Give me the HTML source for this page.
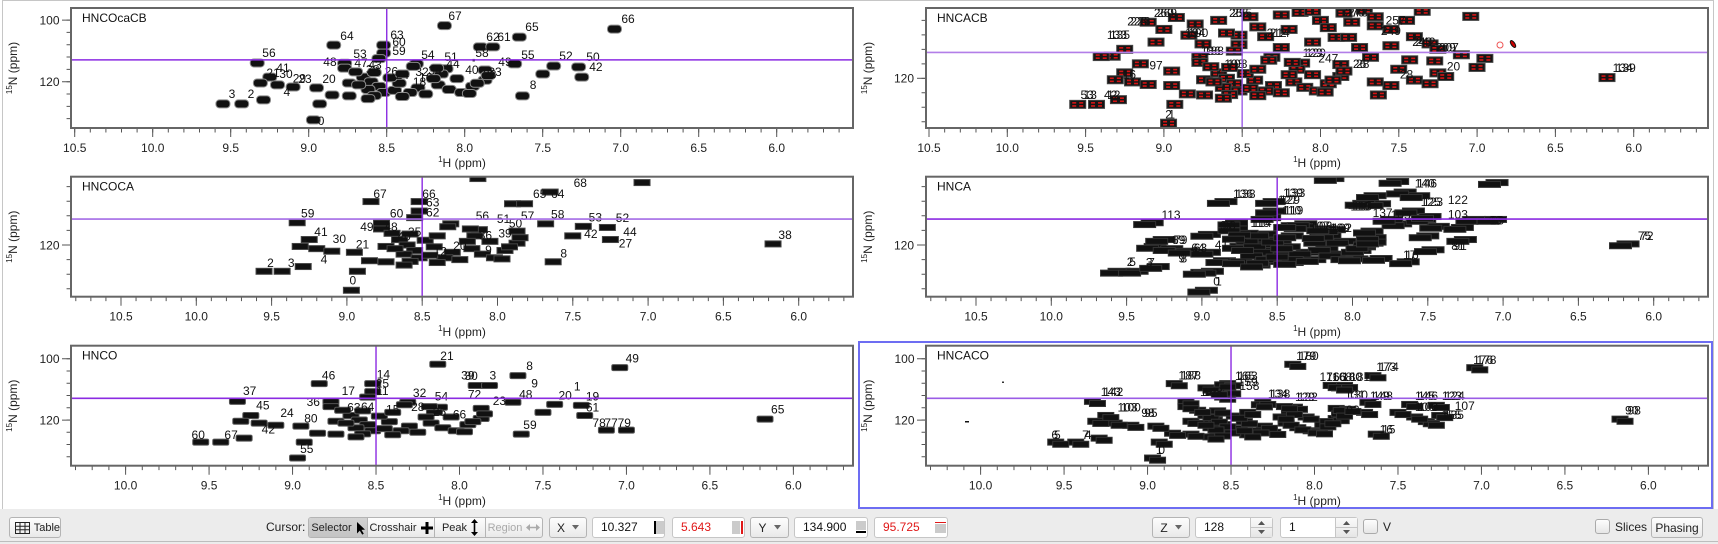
<!DOCTYPE html>
<html><head><meta charset="utf-8">
<style>
body{margin:0;width:1718px;height:544px;overflow:hidden;background:#fff;position:relative;font-family:"Liberation Sans",sans-serif}
svg text{font-family:"Liberation Sans",sans-serif}
.L text{font-size:12px;fill:#111;text-anchor:middle}
.tk{stroke:#555;fill:none}
.xl{font-size:12px;fill:#222;text-anchor:middle}
.yl{font-size:12px;fill:#222;text-anchor:end}
.ti{font-size:12px;fill:#111}
.b{position:absolute;top:517px;height:21px;box-sizing:border-box;border:1px solid #b4b4b4;border-radius:3px;background:linear-gradient(#fdfdfd,#e9e9e9);font:11px "Liberation Sans Narrow","Liberation Sans",sans-serif;color:#222;display:flex;align-items:center;justify-content:center;gap:4px}
.i{position:absolute;top:517px;height:21px;box-sizing:border-box;border:1px solid #c6c6c6;border-radius:3px;background:#fff;font:12px "Liberation Sans",sans-serif;color:#111;line-height:19px;padding-left:8px}
.g{position:absolute;background:#cbcbcb}
.t{position:absolute;font:12px "Liberation Sans Narrow","Liberation Sans",sans-serif;color:#222}
.seg{position:absolute;top:517px;height:21px;left:308px;width:235px;box-sizing:border-box;border:1px solid #b4b4b4;border-radius:3px;background:linear-gradient(#fdfdfd,#e9e9e9);display:flex;font:11px "Liberation Sans Narrow","Liberation Sans",sans-serif;color:#222;overflow:hidden}
.seg div{display:flex;align-items:center;justify-content:center;gap:4px;box-sizing:border-box;border-left:1px solid #b4b4b4}
.cb{position:absolute;top:519px;width:15px;height:15px;box-sizing:border-box;border:1px solid #aaa;border-radius:3px;background:linear-gradient(#fdfdfd,#e6e6e6)}
</style></head><body>
<svg width="1718" height="544" style="position:absolute;left:0;top:0">
<rect x="2.5" y="0.5" width="1711" height="509" fill="#fff" stroke="#c6c6c6"/>

<!-- ================= TL HNCOcaCB ================= -->
<g class="tk">
<line x1="74.2" y1="130.2" x2="840" y2="130.2" stroke-width="4.5" stroke-dasharray="1 14.6"/>
<line x1="74.2" y1="132.5" x2="778" y2="132.5" stroke-width="9" stroke-dasharray="1 77"/>
<line x1="68.8" y1="19.6" x2="68.8" y2="120" stroke-width="4.5" stroke-dasharray="1 11.32"/>
<line x1="66.5" y1="19.6" x2="66.5" y2="83" stroke-width="9" stroke-dasharray="1 60.6"/>
</g>
<g class="xl"><text x="74.7" y="152">10.5</text><text x="152.7" y="152">10.0</text><text x="230.7" y="152">9.5</text><text x="308.7" y="152">9.0</text><text x="386.7" y="152">8.5</text><text x="464.7" y="152">8.0</text><text x="542.7" y="152">7.5</text><text x="620.7" y="152">7.0</text><text x="698.7" y="152">6.5</text><text x="776.7" y="152">6.0</text>
<text x="462" y="167"><tspan font-size="8" dy="-5">1</tspan><tspan dy="5">H (ppm)</tspan></text></g>
<g class="yl"><text x="59.5" y="24.3">100</text><text x="59.5" y="85.9">120</text></g>
<text class="xl" transform="translate(17 68) rotate(-90)"><tspan font-size="8" dy="-5">15</tspan><tspan dy="5">N (ppm)</tspan></text>
<svg x="71" y="8" width="782" height="120" viewBox="-10.524 96.06 5.013 38.96" preserveAspectRatio="none">
<defs><g id="tp" transform="scale(.00641 .3247)"><rect x="-7" y="-4" width="14" height="8" rx="3.5" fill="#111" stroke="#8a8a8a"/></g></defs>
<use href="#tp" x="-8.13" y="101.8"/><use href="#tp" x="-7.04" y="102.9"/><use href="#tp" x="-7.65" y="105.5"/><use href="#tp" x="-7.90" y="108.7"/><use href="#tp" x="-7.82" y="108.7"/><use href="#tp" x="-8.84" y="108.1"/><use href="#tp" x="-8.52" y="108.1"/><use href="#tp" x="-8.52" y="110.7"/><use href="#tp" x="-9.33" y="113.9"/><use href="#tp" x="-8.31" y="114.2"/>
<use href="#tp" x="-7.68" y="114.2"/><use href="#tp" x="-7.43" y="114.9"/><use href="#tp" x="-7.27" y="115.2"/><use href="#tp" x="-7.25" y="118.5"/><use href="#tp" x="-8.77" y="114.0"/><use href="#tp" x="-8.77" y="115.6"/><use href="#tp" x="-9.25" y="118.5"/><use href="#tp" x="-9.55" y="127.2"/><use href="#tp" x="-9.43" y="127.2"/><use href="#tp" x="-8.97" y="132.4"/>
<use href="#tp" x="-7.63" y="124.6"/><use href="#tp" x="-9.31" y="120.4"/><use href="#tp" x="-9.20" y="121.0"/><use href="#tp" x="-9.10" y="121.7"/><use href="#tp" x="-9.29" y="125.9"/><use href="#tp" x="-8.95" y="122.0"/><use href="#tp" x="-8.85" y="124.3"/><use href="#tp" x="-8.74" y="120.4"/><use href="#tp" x="-8.74" y="124.6"/><use href="#tp" x="-8.93" y="127.2"/>
<use href="#tp" x="-7.50" y="117.5"/><use href="#tp" x="-7.87" y="119.5"/><use href="#tp" x="-7.87" y="116.2"/><use href="#tp" x="-8.55" y="112.5"/><use href="#tp" x="-8.12" y="115.8"/><use href="#tp" x="-8.15" y="117.5"/><use href="#tp" x="-8.05" y="119.0"/><use href="#tp" x="-8.17" y="121.0"/><use href="#tp" x="-8.10" y="122.5"/><use href="#tp" x="-8.02" y="123.5"/>
<use href="#tp" x="-7.95" y="121.5"/><use href="#tp" x="-8.30" y="122.0"/><use href="#tp" x="-8.35" y="123.5"/><use href="#tp" x="-8.25" y="124.0"/><use href="#tp" x="-8.65" y="118.5"/><use href="#tp" x="-8.60" y="120.0"/><use href="#tp" x="-8.55" y="121.5"/><use href="#tp" x="-8.62" y="122.5"/><use href="#tp" x="-8.52" y="123.5"/><use href="#tp" x="-8.68" y="121.0"/>
<use href="#tp" x="-8.58" y="124.5"/><use href="#tp" x="-8.45" y="122.8"/><use href="#tp" x="-8.42" y="120.5"/><use href="#tp" x="-8.48" y="118.7"/><use href="#tp" x="-8.40" y="124.8"/><use href="#tp" x="-7.92" y="120.5"/><use href="#tp" x="-7.85" y="118.0"/><use href="#tp" x="-8.20" y="119.0"/><use href="#tp" x="-7.97" y="123.8"/><use href="#tp" x="-8.58" y="117.0"/>
<use href="#tp" x="-8.70" y="116.8"/><use href="#tp" x="-8.62" y="125.5"/><use href="#tp" x="-8.40" y="117.5"/><use href="#tp" x="-8.18" y="115.6"/><use href="#tp" x="-8.33" y="115.0"/>
<rect x="-7.95" y="112.6" width=".015" height=".8" fill="#111"/>
<g class="L">
<text transform="translate(-8.062 98.66) scale(.00641 .3247)" y="4">67</text>
<text transform="translate(-6.953 99.63) scale(.00641 .3247)" y="4">66</text>
<text transform="translate(-7.569 102.23) scale(.00641 .3247)" y="4">65</text>
<text transform="translate(-7.819 105.48) scale(.00641 .3247)" y="4">62</text>
<text transform="translate(-7.748 105.48) scale(.00641 .3247)" y="4">61</text>
<text transform="translate(-8.755 105.15) scale(.00641 .3247)" y="4">64</text>
<text transform="translate(-8.434 104.83) scale(.00641 .3247)" y="4">63</text>
<text transform="translate(-8.421 107.1) scale(.00641 .3247)" y="4">60</text>
<text transform="translate(-8.421 110.02) scale(.00641 .3247)" y="4">59</text>
<text transform="translate(-9.255 110.67) scale(.00641 .3247)" y="4">56</text>
<text transform="translate(-8.671 111.0) scale(.00641 .3247)" y="4">53</text>
<text transform="translate(-8.236 111.32) scale(.00641 .3247)" y="4">54</text>
<text transform="translate(-8.088 111.97) scale(.00641 .3247)" y="4">51</text>
<text transform="translate(-7.889 110.67) scale(.00641 .3247)" y="4">58</text>
<text transform="translate(-7.742 113.59) scale(.00641 .3247)" y="4">49</text>
<text transform="translate(-7.595 111.32) scale(.00641 .3247)" y="4">55</text>
<text transform="translate(-7.351 111.64) scale(.00641 .3247)" y="4">52</text>
<text transform="translate(-7.178 111.97) scale(.00641 .3247)" y="4">50</text>
<text transform="translate(-7.159 115.22) scale(.00641 .3247)" y="4">42</text>
<text transform="translate(-8.864 113.59) scale(.00641 .3247)" y="4">48</text>
<text transform="translate(-8.665 113.92) scale(.00641 .3247)" y="4">47</text>
<text transform="translate(-9.165 115.54) scale(.00641 .3247)" y="4">41</text>
<text transform="translate(-9.229 117.16) scale(.00641 .3247)" y="4">21</text>
<text transform="translate(-9.146 117.49) scale(.00641 .3247)" y="4">30</text>
<text transform="translate(-9.024 119.11) scale(.00641 .3247)" y="4">23</text>
<text transform="translate(-9.06 119.0) scale(.00641 .3247)" y="4">29</text>
<text transform="translate(-8.87 119.11) scale(.00641 .3247)" y="4">20</text>
<text transform="translate(-9.14 123.33) scale(.00641 .3247)" y="4">4</text>
<text transform="translate(-9.492 123.98) scale(.00641 .3247)" y="4">3</text>
<text transform="translate(-9.37 123.98) scale(.00641 .3247)" y="4">2</text>
<text transform="translate(-8.921 132.75) scale(.00641 .3247)" y="4">0</text>
<text transform="translate(-7.562 121.06) scale(.00641 .3247)" y="4">8</text>
<text transform="translate(-7.954 116.19) scale(.00641 .3247)" y="4">40</text>
<text transform="translate(-8.075 114.24) scale(.00641 .3247)" y="4">44</text>
<text transform="translate(-8.575 114.57) scale(.00641 .3247)" y="4">43</text>
<text transform="translate(-8.40 117.8) scale(.00641 .3247)" y="4">24</text>
<text transform="translate(-8.274 116.8) scale(.00641 .3247)" y="4">32</text>
<text transform="translate(-7.806 116.8) scale(.00641 .3247)" y="4">33</text>
<text transform="translate(-8.25 118.6) scale(.00641 .3247)" y="4">16</text>
<text transform="translate(-8.29 120.0) scale(.00641 .3247)" y="4">18</text>
<text transform="translate(-8.19 116.4) scale(.00641 .3247)" y="4">34</text>
<text transform="translate(-7.84 117.6) scale(.00641 .3247)" y="4">28</text>
<text transform="translate(-8.59 116.0) scale(.00641 .3247)" y="4">38</text>
<text transform="translate(-8.47 116.7) scale(.00641 .3247)" y="4">26</text>
</g>
<line x1="-11" x2="-5" y1="112.9" y2="112.9" stroke="#8b2be2" stroke-width="1.6" vector-effect="non-scaling-stroke"/>
<line x1="-8.5" x2="-8.5" y1="90" y2="140" stroke="#8b2be2" stroke-width="1.4" vector-effect="non-scaling-stroke"/>
</svg>
<rect x="71" y="8" width="782" height="120" fill="none" stroke="#666" stroke-width="2"/>
<text class="ti" x="82" y="22">HNCOcaCB</text>

<!-- ================= ML HNCOCA ================= -->
<g class="tk">
<line x1="75.3" y1="298.9" x2="845" y2="298.9" stroke-width="4.5" stroke-dasharray="1 14.06"/>
<line x1="120.5" y1="301.2" x2="800" y2="301.2" stroke-width="9" stroke-dasharray="1 74.3"/>
<line x1="68.8" y1="186.1" x2="68.8" y2="290" stroke-width="4.5" stroke-dasharray="1 13.6"/>
<line x1="62" y1="245" x2="71" y2="245" stroke-width="1"/>
</g>
<g class="xl"><text x="121" y="320.5">10.5</text><text x="196.3" y="320.5">10.0</text><text x="271.6" y="320.5">9.5</text><text x="346.9" y="320.5">9.0</text><text x="422.2" y="320.5">8.5</text><text x="497.5" y="320.5">8.0</text><text x="572.8" y="320.5">7.5</text><text x="648.1" y="320.5">7.0</text><text x="723.4" y="320.5">6.5</text><text x="798.7" y="320.5">6.0</text>
<text x="462" y="336"><tspan font-size="8" dy="-5">1</tspan><tspan dy="5">H (ppm)</tspan></text></g>
<g class="yl"><text x="59.5" y="249.3">120</text></g>
<text class="xl" transform="translate(17 236.7) rotate(-90)"><tspan font-size="8" dy="-5">15</tspan><tspan dy="5">N (ppm)</tspan></text>
<svg x="71" y="176.7" width="782" height="120" viewBox="-10.832 101.29 5.193 32.87" preserveAspectRatio="none">
<defs><g id="mp" transform="scale(.006641 .27392)"><rect x="-8" y="-3" width="16" height="6" fill="#111" stroke="#444"/></g></defs>
<use href="#mp" x="-8.13" y="101.8"/><use href="#mp" x="-7.04" y="102.9"/><use href="#mp" x="-7.65" y="105.5"/><use href="#mp" x="-7.90" y="108.7"/><use href="#mp" x="-7.82" y="108.7"/><use href="#mp" x="-8.84" y="108.1"/><use href="#mp" x="-8.52" y="108.1"/><use href="#mp" x="-8.52" y="110.7"/><use href="#mp" x="-9.33" y="113.9"/><use href="#mp" x="-8.31" y="114.2"/>
<use href="#mp" x="-7.68" y="114.2"/><use href="#mp" x="-7.43" y="114.9"/><use href="#mp" x="-7.27" y="115.2"/><use href="#mp" x="-7.25" y="118.5"/><use href="#mp" x="-8.77" y="114.0"/><use href="#mp" x="-8.77" y="115.6"/><use href="#mp" x="-9.25" y="118.5"/><use href="#mp" x="-9.55" y="127.2"/><use href="#mp" x="-9.43" y="127.2"/><use href="#mp" x="-8.97" y="132.4"/>
<use href="#mp" x="-7.63" y="124.6"/><use href="#mp" x="-9.31" y="120.4"/><use href="#mp" x="-9.20" y="121.0"/><use href="#mp" x="-9.10" y="121.7"/><use href="#mp" x="-9.29" y="125.9"/><use href="#mp" x="-8.95" y="122.0"/><use href="#mp" x="-8.85" y="124.3"/><use href="#mp" x="-8.74" y="120.4"/><use href="#mp" x="-8.74" y="124.6"/><use href="#mp" x="-8.93" y="127.2"/>
<use href="#mp" x="-7.50" y="117.5"/><use href="#mp" x="-7.87" y="119.5"/><use href="#mp" x="-7.87" y="116.2"/><use href="#mp" x="-8.55" y="112.5"/><use href="#mp" x="-8.12" y="115.8"/><use href="#mp" x="-8.15" y="117.5"/><use href="#mp" x="-8.05" y="119.0"/><use href="#mp" x="-8.17" y="121.0"/><use href="#mp" x="-8.10" y="122.5"/><use href="#mp" x="-8.02" y="123.5"/>
<use href="#mp" x="-7.95" y="121.5"/><use href="#mp" x="-8.30" y="122.0"/><use href="#mp" x="-8.35" y="123.5"/><use href="#mp" x="-8.25" y="124.0"/><use href="#mp" x="-8.65" y="118.5"/><use href="#mp" x="-8.60" y="120.0"/><use href="#mp" x="-8.55" y="121.5"/><use href="#mp" x="-8.62" y="122.5"/><use href="#mp" x="-8.52" y="123.5"/><use href="#mp" x="-8.68" y="121.0"/>
<use href="#mp" x="-8.58" y="124.5"/><use href="#mp" x="-8.45" y="122.8"/><use href="#mp" x="-8.42" y="120.5"/><use href="#mp" x="-8.48" y="118.7"/><use href="#mp" x="-8.40" y="124.8"/><use href="#mp" x="-7.92" y="120.5"/><use href="#mp" x="-7.85" y="118.0"/><use href="#mp" x="-8.20" y="119.0"/><use href="#mp" x="-7.97" y="123.8"/><use href="#mp" x="-8.58" y="117.0"/>
<use href="#mp" x="-8.70" y="116.8"/><use href="#mp" x="-8.62" y="125.5"/><use href="#mp" x="-8.40" y="117.5"/><use href="#mp" x="-8.18" y="115.6"/><use href="#mp" x="-8.33" y="115.0"/><use href="#mp" x="-6.17" y="119.7"/>
<g class="L">
<text transform="translate(-8.78 106.0) scale(.006641 .27392)" y="4">67</text>
<text transform="translate(-8.455 106.0) scale(.006641 .27392)" y="4">66</text>
<text transform="translate(-8.43 108.4) scale(.006641 .27392)" y="4">63</text>
<text transform="translate(-8.43 111.1) scale(.006641 .27392)" y="4">62</text>
<text transform="translate(-7.72 106.0) scale(.006641 .27392)" y="4">65</text>
<text transform="translate(-7.60 106.0) scale(.006641 .27392)" y="4">64</text>
<text transform="translate(-7.45 103.0) scale(.006641 .27392)" y="4">68</text>
<text transform="translate(-9.26 111.4) scale(.006641 .27392)" y="4">59</text>
<text transform="translate(-8.67 111.4) scale(.006641 .27392)" y="4">60</text>
<text transform="translate(-8.10 112.0) scale(.006641 .27392)" y="4">56</text>
<text transform="translate(-7.96 112.9) scale(.006641 .27392)" y="4">51</text>
<text transform="translate(-7.80 112.0) scale(.006641 .27392)" y="4">57</text>
<text transform="translate(-7.60 111.7) scale(.006641 .27392)" y="4">58</text>
<text transform="translate(-7.35 112.4) scale(.006641 .27392)" y="4">53</text>
<text transform="translate(-7.17 112.6) scale(.006641 .27392)" y="4">52</text>
<text transform="translate(-8.867 115.0) scale(.006641 .27392)" y="4">49</text>
<text transform="translate(-8.707 115.0) scale(.006641 .27392)" y="4">48</text>
<text transform="translate(-7.88 114.1) scale(.006641 .27392)" y="4">50</text>
<text transform="translate(-9.172 116.5) scale(.006641 .27392)" y="4">41</text>
<text transform="translate(-7.38 117.0) scale(.006641 .27392)" y="4">42</text>
<text transform="translate(-7.12 116.4) scale(.006641 .27392)" y="4">44</text>
<text transform="translate(-7.95 116.8) scale(.006641 .27392)" y="4">39</text>
<text transform="translate(-8.08 117.4) scale(.006641 .27392)" y="4">36</text>
<text transform="translate(-9.05 118.3) scale(.006641 .27392)" y="4">30</text>
<text transform="translate(-8.896 119.8) scale(.006641 .27392)" y="4">21</text>
<text transform="translate(-7.15 119.6) scale(.006641 .27392)" y="4">27</text>
<text transform="translate(-6.09 117.3) scale(.006641 .27392)" y="4">38</text>
<text transform="translate(-9.152 124.0) scale(.006641 .27392)" y="4">4</text>
<text transform="translate(-9.507 124.9) scale(.006641 .27392)" y="4">2</text>
<text transform="translate(-9.37 124.9) scale(.006641 .27392)" y="4">3</text>
<text transform="translate(-7.56 122.3) scale(.006641 .27392)" y="4">8</text>
<text transform="translate(-8.96 129.7) scale(.006641 .27392)" y="4">0</text>
<text transform="translate(-8.06 121.3) scale(.006641 .27392)" y="4">9</text>
<text transform="translate(-8.55 116.5) scale(.006641 .27392)" y="4">35</text>
<text transform="translate(-8.62 117.6) scale(.006641 .27392)" y="4">40</text>
<text transform="translate(-8.25 120.2) scale(.006641 .27392)" y="4">20</text>
<text transform="translate(-8.38 121.8) scale(.006641 .27392)" y="4">12</text>
</g>
<line x1="-11" x2="-5" y1="112.9" y2="112.9" stroke="#a46be6" stroke-width="1.6" vector-effect="non-scaling-stroke"/>
<line x1="-8.5" x2="-8.5" y1="95" y2="140" stroke="#8b2be2" stroke-width="1.4" vector-effect="non-scaling-stroke"/>
</svg>
<rect x="71" y="176.7" width="782" height="120" fill="none" stroke="#666" stroke-width="2"/>
<text class="ti" x="82" y="190.7">HNCOCA</text>

<!-- ================= BL HNCO ================= -->
<g class="tk">
<line x1="75" y1="467.9" x2="845" y2="467.9" stroke-width="4.5" stroke-dasharray="1 15.695"/>
<line x1="125.1" y1="470.2" x2="795" y2="470.2" stroke-width="9" stroke-dasharray="1 82.475"/>
<line x1="68.8" y1="358.3" x2="68.8" y2="458" stroke-width="4.5" stroke-dasharray="1 11.25"/>
<line x1="66.5" y1="358.3" x2="66.5" y2="421" stroke-width="9" stroke-dasharray="1 60.3"/>
</g>
<g class="xl"><text x="125.6" y="489.5">10.0</text><text x="209.1" y="489.5">9.5</text><text x="292.6" y="489.5">9.0</text><text x="376" y="489.5">8.5</text><text x="459.5" y="489.5">8.0</text><text x="543" y="489.5">7.5</text><text x="626.5" y="489.5">7.0</text><text x="709.9" y="489.5">6.5</text><text x="793.4" y="489.5">6.0</text>
<text x="462" y="505"><tspan font-size="8" dy="-5">1</tspan><tspan dy="5">H (ppm)</tspan></text></g>
<g class="yl"><text x="59.5" y="363">100</text><text x="59.5" y="424.3">120</text></g>
<text class="xl" transform="translate(17 405.7) rotate(-90)"><tspan font-size="8" dy="-5">15</tspan><tspan dy="5">N (ppm)</tspan></text>
<svg x="71" y="345.7" width="782" height="120" viewBox="-10.327 95.725 4.684 39.175" preserveAspectRatio="none">
<defs><g id="bp" transform="scale(.00599 .32646)"><rect x="-8" y="-3" width="16" height="6" rx="1.5" fill="#111" stroke="#555"/></g></defs>
<use href="#bp" x="-8.13" y="101.8"/><use href="#bp" x="-7.04" y="102.9"/><use href="#bp" x="-7.65" y="105.5"/><use href="#bp" x="-7.90" y="108.7"/><use href="#bp" x="-7.82" y="108.7"/><use href="#bp" x="-8.84" y="108.1"/><use href="#bp" x="-8.52" y="108.1"/><use href="#bp" x="-8.52" y="110.7"/><use href="#bp" x="-9.33" y="113.9"/><use href="#bp" x="-8.31" y="114.2"/>
<use href="#bp" x="-7.68" y="114.2"/><use href="#bp" x="-7.43" y="114.9"/><use href="#bp" x="-7.27" y="115.2"/><use href="#bp" x="-7.25" y="118.5"/><use href="#bp" x="-8.77" y="114.0"/><use href="#bp" x="-8.77" y="115.6"/><use href="#bp" x="-9.25" y="118.5"/><use href="#bp" x="-9.55" y="127.2"/><use href="#bp" x="-9.43" y="127.2"/><use href="#bp" x="-8.97" y="132.4"/>
<use href="#bp" x="-7.63" y="124.6"/><use href="#bp" x="-9.31" y="120.4"/><use href="#bp" x="-9.20" y="121.0"/><use href="#bp" x="-9.10" y="121.7"/><use href="#bp" x="-9.29" y="125.9"/><use href="#bp" x="-8.95" y="122.0"/><use href="#bp" x="-8.85" y="124.3"/><use href="#bp" x="-8.74" y="120.4"/><use href="#bp" x="-8.74" y="124.6"/><use href="#bp" x="-8.93" y="127.2"/>
<use href="#bp" x="-7.50" y="117.5"/><use href="#bp" x="-7.87" y="119.5"/><use href="#bp" x="-7.87" y="116.2"/><use href="#bp" x="-8.55" y="112.5"/><use href="#bp" x="-8.12" y="115.8"/><use href="#bp" x="-8.15" y="117.5"/><use href="#bp" x="-8.05" y="119.0"/><use href="#bp" x="-8.17" y="121.0"/><use href="#bp" x="-8.10" y="122.5"/><use href="#bp" x="-8.02" y="123.5"/>
<use href="#bp" x="-7.95" y="121.5"/><use href="#bp" x="-8.30" y="122.0"/><use href="#bp" x="-8.35" y="123.5"/><use href="#bp" x="-8.25" y="124.0"/><use href="#bp" x="-8.65" y="118.5"/><use href="#bp" x="-8.60" y="120.0"/><use href="#bp" x="-8.55" y="121.5"/><use href="#bp" x="-8.62" y="122.5"/><use href="#bp" x="-8.52" y="123.5"/><use href="#bp" x="-8.68" y="121.0"/>
<use href="#bp" x="-8.58" y="124.5"/><use href="#bp" x="-8.45" y="122.8"/><use href="#bp" x="-8.42" y="120.5"/><use href="#bp" x="-8.48" y="118.7"/><use href="#bp" x="-8.40" y="124.8"/><use href="#bp" x="-7.92" y="120.5"/><use href="#bp" x="-7.85" y="118.0"/><use href="#bp" x="-8.20" y="119.0"/><use href="#bp" x="-7.97" y="123.8"/><use href="#bp" x="-8.58" y="117.0"/>
<use href="#bp" x="-8.70" y="116.8"/><use href="#bp" x="-8.62" y="125.5"/><use href="#bp" x="-8.40" y="117.5"/><use href="#bp" x="-8.18" y="115.6"/><use href="#bp" x="-8.33" y="115.0"/><use href="#bp" x="-6.17" y="119.7"/><use href="#bp" x="-7.12" y="123.3"/><use href="#bp" x="-7.00" y="123.3"/>
<g class="L">
<text transform="translate(-8.075 99.09) scale(.00599 .32646)" y="4">21</text>
<text transform="translate(-6.965 99.9) scale(.00599 .32646)" y="4">49</text>
<text transform="translate(-7.58 102.35) scale(.00599 .32646)" y="4">8</text>
<text transform="translate(-7.95 105.4) scale(.00599 .32646)" y="4">39</text>
<text transform="translate(-7.93 105.6) scale(.00599 .32646)" y="4">30</text>
<text transform="translate(-7.80 105.5) scale(.00599 .32646)" y="4">3</text>
<text transform="translate(-7.55 108.0) scale(.00599 .32646)" y="4">9</text>
<text transform="translate(-8.784 105.5) scale(.00599 .32646)" y="4">46</text>
<text transform="translate(-8.456 105.2) scale(.00599 .32646)" y="4">14</text>
<text transform="translate(-8.462 108.0) scale(.00599 .32646)" y="4">25</text>
<text transform="translate(-8.462 110.5) scale(.00599 .32646)" y="4">11</text>
<text transform="translate(-8.666 110.5) scale(.00599 .32646)" y="4">17</text>
<text transform="translate(-8.239 111.2) scale(.00599 .32646)" y="4">32</text>
<text transform="translate(-8.108 112.3) scale(.00599 .32646)" y="4">54</text>
<text transform="translate(-7.91 111.6) scale(.00599 .32646)" y="4">72</text>
<text transform="translate(-7.603 111.6) scale(.00599 .32646)" y="4">48</text>
<text transform="translate(-7.367 111.9) scale(.00599 .32646)" y="4">20</text>
<text transform="translate(-7.295 109.1) scale(.00599 .32646)" y="4">1</text>
<text transform="translate(-7.203 112.3) scale(.00599 .32646)" y="4">19</text>
<text transform="translate(-7.203 115.9) scale(.00599 .32646)" y="4">61</text>
<text transform="translate(-9.257 110.5) scale(.00599 .32646)" y="4">37</text>
<text transform="translate(-9.178 115.2) scale(.00599 .32646)" y="4">45</text>
<text transform="translate(-8.876 114.1) scale(.00599 .32646)" y="4">36</text>
<text transform="translate(-7.761 113.7) scale(.00599 .32646)" y="4">23</text>
<text transform="translate(-9.033 117.7) scale(.00599 .32646)" y="4">24</text>
<text transform="translate(-8.89 119.5) scale(.00599 .32646)" y="4">80</text>
<text transform="translate(-9.145 123.05) scale(.00599 .32646)" y="4">42</text>
<text transform="translate(-8.633 115.9) scale(.00599 .32646)" y="4">63</text>
<text transform="translate(-7.578 121.6) scale(.00599 .32646)" y="4">59</text>
<text transform="translate(-9.565 124.8) scale(.00599 .32646)" y="4">60</text>
<text transform="translate(-9.368 124.8) scale(.00599 .32646)" y="4">67</text>
<text transform="translate(-8.915 129.4) scale(.00599 .32646)" y="4">55</text>
<text transform="translate(-6.094 116.6) scale(.00599 .32646)" y="4">65</text>
<text transform="translate(-7.164 120.9) scale(.00599 .32646)" y="4">78</text>
<text transform="translate(-7.092 120.9) scale(.00599 .32646)" y="4">77</text>
<text transform="translate(-7.013 120.9) scale(.00599 .32646)" y="4">79</text>
<text transform="translate(-8.55 115.8) scale(.00599 .32646)" y="4">64</text>
<text transform="translate(-8.25 115.8) scale(.00599 .32646)" y="4">28</text>
<text transform="translate(-8.40 116.6) scale(.00599 .32646)" y="4">15</text>
<text transform="translate(-8.00 118.2) scale(.00599 .32646)" y="4">66</text>
<text transform="translate(-8.12 117.4) scale(.00599 .32646)" y="4">26</text>
</g>
<line x1="-11" x2="-5" y1="112.9" y2="112.9" stroke="#8b2be2" stroke-width="1.6" vector-effect="non-scaling-stroke"/>
<line x1="-8.5" x2="-8.5" y1="90" y2="140" stroke="#8b2be2" stroke-width="1.4" vector-effect="non-scaling-stroke"/>
</svg>
<rect x="71" y="345.7" width="782" height="120" fill="none" stroke="#666" stroke-width="2"/>
<text class="ti" x="82" y="359.7">HNCO</text>

<!-- ================= TR HNCACB ================= -->
<g class="tk">
<line x1="928.5" y1="130.2" x2="1698" y2="130.2" stroke-width="4.5" stroke-dasharray="1 14.66"/>
<line x1="928.5" y1="132.5" x2="1636" y2="132.5" stroke-width="9" stroke-dasharray="1 77.3"/>
<line x1="923.8" y1="19.9" x2="923.8" y2="123" stroke-width="4.5" stroke-dasharray="1 13.48"/>
<line x1="917" y1="78.3" x2="926" y2="78.3" stroke-width="1"/>
</g>
<g class="xl"><text x="929" y="152">10.5</text><text x="1007.3" y="152">10.0</text><text x="1085.6" y="152">9.5</text><text x="1163.9" y="152">9.0</text><text x="1242.2" y="152">8.5</text><text x="1320.5" y="152">8.0</text><text x="1398.8" y="152">7.5</text><text x="1477.1" y="152">7.0</text><text x="1555.4" y="152">6.5</text><text x="1633.7" y="152">6.0</text>
<text x="1317" y="167"><tspan font-size="8" dy="-5">1</tspan><tspan dy="5">H (ppm)</tspan></text></g>
<g class="yl"><text x="914" y="82.6">120</text></g>
<text class="xl" transform="translate(872 68) rotate(-90)"><tspan font-size="8" dy="-5">15</tspan><tspan dy="5">N (ppm)</tspan></text>
<svg x="926" y="8" width="782" height="120" viewBox="-10.519 100.58 4.994 33.15" preserveAspectRatio="none">
<defs><g id="rp" transform="scale(.006386 .27625)"><rect x="-8" y="-4" width="16" height="8" fill="#151515" stroke="#444"/><rect x="-5.5" y="-2.3" width="4" height="1.6" fill="#d41414"/><rect x="1.5" y="-2.3" width="4" height="1.6" fill="#d41414"/><rect x="-5.5" y=".8" width="4" height="1.6" fill="#d41414"/><rect x="1.5" y=".8" width="4" height="1.6" fill="#d41414"/></g></defs>
<use href="#rp" x="-8.13" y="101.8"/><use href="#rp" x="-7.04" y="102.9"/><use href="#rp" x="-7.65" y="105.5"/><use href="#rp" x="-7.90" y="108.7"/><use href="#rp" x="-7.82" y="108.7"/><use href="#rp" x="-8.84" y="108.1"/><use href="#rp" x="-8.52" y="108.1"/><use href="#rp" x="-8.52" y="110.7"/><use href="#rp" x="-9.33" y="113.9"/><use href="#rp" x="-8.31" y="114.2"/>
<use href="#rp" x="-7.68" y="114.2"/><use href="#rp" x="-7.43" y="114.9"/><use href="#rp" x="-7.27" y="115.2"/><use href="#rp" x="-7.25" y="118.5"/><use href="#rp" x="-8.77" y="114.0"/><use href="#rp" x="-8.77" y="115.6"/><use href="#rp" x="-9.25" y="118.5"/><use href="#rp" x="-9.55" y="127.2"/><use href="#rp" x="-9.43" y="127.2"/><use href="#rp" x="-8.97" y="132.4"/>
<use href="#rp" x="-7.63" y="124.6"/><use href="#rp" x="-9.31" y="120.4"/><use href="#rp" x="-9.20" y="121.0"/><use href="#rp" x="-9.10" y="121.7"/><use href="#rp" x="-9.29" y="125.9"/><use href="#rp" x="-8.95" y="122.0"/><use href="#rp" x="-8.85" y="124.3"/><use href="#rp" x="-8.74" y="120.4"/><use href="#rp" x="-8.74" y="124.6"/><use href="#rp" x="-8.93" y="127.2"/>
<use href="#rp" x="-7.50" y="117.5"/><use href="#rp" x="-7.87" y="119.5"/><use href="#rp" x="-7.87" y="116.2"/><use href="#rp" x="-8.55" y="112.5"/><use href="#rp" x="-8.12" y="115.8"/><use href="#rp" x="-8.15" y="117.5"/><use href="#rp" x="-8.05" y="119.0"/><use href="#rp" x="-8.17" y="121.0"/><use href="#rp" x="-8.10" y="122.5"/><use href="#rp" x="-8.02" y="123.5"/>
<use href="#rp" x="-7.95" y="121.5"/><use href="#rp" x="-8.30" y="122.0"/><use href="#rp" x="-8.35" y="123.5"/><use href="#rp" x="-8.25" y="124.0"/><use href="#rp" x="-8.65" y="118.5"/><use href="#rp" x="-8.60" y="120.0"/><use href="#rp" x="-8.55" y="121.5"/><use href="#rp" x="-8.62" y="122.5"/><use href="#rp" x="-8.52" y="123.5"/><use href="#rp" x="-8.68" y="121.0"/>
<use href="#rp" x="-8.58" y="124.5"/><use href="#rp" x="-8.45" y="122.8"/><use href="#rp" x="-8.42" y="120.5"/><use href="#rp" x="-8.48" y="118.7"/><use href="#rp" x="-8.40" y="124.8"/><use href="#rp" x="-7.92" y="120.5"/><use href="#rp" x="-7.85" y="118.0"/><use href="#rp" x="-8.20" y="119.0"/><use href="#rp" x="-7.97" y="123.8"/><use href="#rp" x="-8.58" y="117.0"/>
<use href="#rp" x="-8.70" y="116.8"/><use href="#rp" x="-8.62" y="125.5"/><use href="#rp" x="-8.40" y="117.5"/><use href="#rp" x="-8.18" y="115.6"/><use href="#rp" x="-8.33" y="115.0"/>
<use href="#rp" x="-9.10" y="104.5"/><use href="#rp" x="-9.00" y="106.5"/><use href="#rp" x="-8.92" y="103.2"/><use href="#rp" x="-8.80" y="105.0"/><use href="#rp" x="-8.65" y="104.0"/><use href="#rp" x="-8.60" y="107.5"/><use href="#rp" x="-8.45" y="103.0"/><use href="#rp" x="-8.40" y="105.8"/><use href="#rp" x="-8.35" y="108.5"/><use href="#rp" x="-8.25" y="102.5"/>
<use href="#rp" x="-8.20" y="106.5"/><use href="#rp" x="-8.05" y="101.5"/><use href="#rp" x="-8.00" y="104.0"/><use href="#rp" x="-7.95" y="106.0"/><use href="#rp" x="-7.85" y="102.0"/><use href="#rp" x="-7.80" y="104.5"/><use href="#rp" x="-7.72" y="101.2"/><use href="#rp" x="-7.65" y="103.0"/><use href="#rp" x="-7.55" y="106.5"/><use href="#rp" x="-7.45" y="104.0"/>
<use href="#rp" x="-7.40" y="108.5"/><use href="#rp" x="-7.35" y="101.5"/><use href="#rp" x="-7.30" y="110.5"/><use href="#rp" x="-7.25" y="112.0"/><use href="#rp" x="-7.10" y="113.5"/><use href="#rp" x="-7.55" y="111.0"/><use href="#rp" x="-7.75" y="111.5"/><use href="#rp" x="-8.05" y="110.0"/><use href="#rp" x="-8.25" y="111.5"/><use href="#rp" x="-8.75" y="110.5"/>
<use href="#rp" x="-9.05" y="110.0"/><use href="#rp" x="-9.25" y="112.0"/><use href="#rp" x="-9.40" y="114.0"/><use href="#rp" x="-9.15" y="116.0"/><use href="#rp" x="-8.95" y="118.0"/><use href="#rp" x="-7.40" y="120.5"/><use href="#rp" x="-7.30" y="121.5"/><use href="#rp" x="-7.55" y="122.0"/><use href="#rp" x="-7.65" y="121.0"/><use href="#rp" x="-7.20" y="119.5"/>
<use href="#rp" x="-7.00" y="117.0"/><use href="#rp" x="-6.95" y="114.5"/><use href="#rp" x="-6.17" y="119.8"/>
<g class="L">
<text transform="translate(-8.98 102.0) scale(.006386 .27625)" y="4">269</text><text transform="translate(-9.0 102.0) scale(.006386 .27625)" y="4">260</text>
<text transform="translate(-8.52 102.0) scale(.006386 .27625)" y="4">265</text><text transform="translate(-8.50 102.0) scale(.006386 .27625)" y="4">255</text>
<text transform="translate(-7.78 101.8) scale(.006386 .27625)" y="4">279</text><text transform="translate(-7.76 101.8) scale(.006386 .27625)" y="4">278</text>
<text transform="translate(-9.15 104.3) scale(.006386 .27625)" y="4">226</text><text transform="translate(-9.17 104.3) scale(.006386 .27625)" y="4">225</text>
<text transform="translate(-9.30 108.0) scale(.006386 .27625)" y="4">133</text><text transform="translate(-9.28 108.0) scale(.006386 .27625)" y="4">135</text>
<text transform="translate(-8.80 107.5) scale(.006386 .27625)" y="4">194</text><text transform="translate(-8.78 107.5) scale(.006386 .27625)" y="4">190</text>
<text transform="translate(-8.28 107.5) scale(.006386 .27625)" y="4">212</text><text transform="translate(-8.26 107.5) scale(.006386 .27625)" y="4">214</text>
<text transform="translate(-7.35 110.0) scale(.006386 .27625)" y="4">243</text><text transform="translate(-7.33 110.0) scale(.006386 .27625)" y="4">242</text>
<text transform="translate(-7.20 111.5) scale(.006386 .27625)" y="4">209</text><text transform="translate(-7.18 111.5) scale(.006386 .27625)" y="4">207</text>
<text transform="translate(-7.55 107.0) scale(.006386 .27625)" y="4">249</text>
<text transform="translate(-7.52 104.0) scale(.006386 .27625)" y="4">257</text>
<text transform="translate(-7.75 116.0) scale(.006386 .27625)" y="4">26</text><text transform="translate(-7.73 116.0) scale(.006386 .27625)" y="4">28</text>
<text transform="translate(-6.07 117.2) scale(.006386 .27625)" y="4">134</text><text transform="translate(-6.05 117.2) scale(.006386 .27625)" y="4">139</text>
<text transform="translate(-9.49 124.6) scale(.006386 .27625)" y="4">53</text><text transform="translate(-9.47 124.6) scale(.006386 .27625)" y="4">13</text>
<text transform="translate(-9.34 124.6) scale(.006386 .27625)" y="4">42</text><text transform="translate(-9.32 124.6) scale(.006386 .27625)" y="4">12</text>
<text transform="translate(-8.95 130.0) scale(.006386 .27625)" y="4">1</text><text transform="translate(-8.97 130.0) scale(.006386 .27625)" y="4">2</text>
<text transform="translate(-9.22 119.0) scale(.006386 .27625)" y="4">16</text>
<text transform="translate(-8.55 116.0) scale(.006386 .27625)" y="4">193</text><text transform="translate(-8.53 116.0) scale(.006386 .27625)" y="4">198</text>
<text transform="translate(-9.05 116.5) scale(.006386 .27625)" y="4">97</text>
<text transform="translate(-8.05 113.0) scale(.006386 .27625)" y="4">129</text><text transform="translate(-8.03 113.0) scale(.006386 .27625)" y="4">120</text>
<text transform="translate(-7.45 119.0) scale(.006386 .27625)" y="4">28</text>
<text transform="translate(-7.15 116.8) scale(.006386 .27625)" y="4">20</text>
<text transform="translate(-8.70 112.5) scale(.006386 .27625)" y="4">186</text><text transform="translate(-8.68 112.5) scale(.006386 .27625)" y="4">188</text>
<text transform="translate(-7.95 114.5) scale(.006386 .27625)" y="4">247</text>
</g>
<line x1="-11" x2="-5" y1="112.85" y2="112.85" stroke="#b27ee8" stroke-width="1.6" vector-effect="non-scaling-stroke"/>
<line x1="-8.5" x2="-8.5" y1="95" y2="140" stroke="#9b5ce6" stroke-width="1.4" vector-effect="non-scaling-stroke"/>
</svg>
<circle cx="1500" cy="45" r="3" fill="none" stroke="#e55"/>
<ellipse cx="1513" cy="44" rx="1.8" ry="4" transform="rotate(-35 1513 44)" fill="#c00" stroke="#111"/>
<rect x="926" y="8" width="782" height="120" fill="none" stroke="#666" stroke-width="2"/>
<text class="ti" x="937" y="22">HNCACB</text>

<!-- ================= MR HNCA ================= -->
<g class="tk">
<line x1="930.3" y1="298.9" x2="1700" y2="298.9" stroke-width="4.5" stroke-dasharray="1 14.06"/>
<line x1="975.5" y1="301.2" x2="1655" y2="301.2" stroke-width="9" stroke-dasharray="1 74.3"/>
<line x1="923.8" y1="186.1" x2="923.8" y2="290" stroke-width="4.5" stroke-dasharray="1 13.6"/>
<line x1="917" y1="245" x2="926" y2="245" stroke-width="1"/>
</g>
<g class="xl"><text x="976" y="320.5">10.5</text><text x="1051.3" y="320.5">10.0</text><text x="1126.6" y="320.5">9.5</text><text x="1201.9" y="320.5">9.0</text><text x="1277.2" y="320.5">8.5</text><text x="1352.5" y="320.5">8.0</text><text x="1427.8" y="320.5">7.5</text><text x="1503.1" y="320.5">7.0</text><text x="1578.4" y="320.5">6.5</text><text x="1653.7" y="320.5">6.0</text>
<text x="1317" y="336"><tspan font-size="8" dy="-5">1</tspan><tspan dy="5">H (ppm)</tspan></text></g>
<g class="yl"><text x="914" y="249.3">120</text></g>
<text class="xl" transform="translate(872 236.7) rotate(-90)"><tspan font-size="8" dy="-5">15</tspan><tspan dy="5">N (ppm)</tspan></text>
<svg x="926" y="176.7" width="782" height="120" viewBox="-10.832 101.29 5.193 32.87" preserveAspectRatio="none">
<defs><g id="np" transform="scale(.006641 .27392)"><rect x="-11" y="-3" width="22" height="6" fill="#111" stroke="#333"/></g></defs>
<g id="mrR">
<use href="#np" x="-8.13" y="101.8"/><use href="#np" x="-7.04" y="102.9"/><use href="#np" x="-7.65" y="105.5"/><use href="#np" x="-7.90" y="108.7"/><use href="#np" x="-7.82" y="108.7"/><use href="#np" x="-8.84" y="108.1"/><use href="#np" x="-8.52" y="108.1"/><use href="#np" x="-8.52" y="110.7"/><use href="#np" x="-9.33" y="113.9"/><use href="#np" x="-8.31" y="114.2"/>
<use href="#np" x="-7.68" y="114.2"/><use href="#np" x="-7.43" y="114.9"/><use href="#np" x="-7.27" y="115.2"/><use href="#np" x="-7.25" y="118.5"/><use href="#np" x="-8.77" y="114.0"/><use href="#np" x="-8.77" y="115.6"/><use href="#np" x="-9.25" y="118.5"/><use href="#np" x="-9.55" y="127.2"/><use href="#np" x="-9.43" y="127.2"/><use href="#np" x="-8.97" y="132.4"/>
<use href="#np" x="-7.63" y="124.6"/><use href="#np" x="-9.31" y="120.4"/><use href="#np" x="-9.20" y="121.0"/><use href="#np" x="-9.10" y="121.7"/><use href="#np" x="-9.29" y="125.9"/><use href="#np" x="-8.95" y="122.0"/><use href="#np" x="-8.85" y="124.3"/><use href="#np" x="-8.74" y="120.4"/><use href="#np" x="-8.74" y="124.6"/><use href="#np" x="-8.93" y="127.2"/>
<use href="#np" x="-7.50" y="117.5"/><use href="#np" x="-7.87" y="119.5"/><use href="#np" x="-7.87" y="116.2"/><use href="#np" x="-8.55" y="112.5"/><use href="#np" x="-8.12" y="115.8"/><use href="#np" x="-8.15" y="117.5"/><use href="#np" x="-8.05" y="119.0"/><use href="#np" x="-8.17" y="121.0"/><use href="#np" x="-8.10" y="122.5"/><use href="#np" x="-8.02" y="123.5"/>
<use href="#np" x="-7.95" y="121.5"/><use href="#np" x="-8.30" y="122.0"/><use href="#np" x="-8.35" y="123.5"/><use href="#np" x="-8.25" y="124.0"/><use href="#np" x="-8.65" y="118.5"/><use href="#np" x="-8.60" y="120.0"/><use href="#np" x="-8.55" y="121.5"/><use href="#np" x="-8.62" y="122.5"/><use href="#np" x="-8.52" y="123.5"/><use href="#np" x="-8.68" y="121.0"/>
<use href="#np" x="-8.58" y="124.5"/><use href="#np" x="-8.45" y="122.8"/><use href="#np" x="-8.42" y="120.5"/><use href="#np" x="-8.48" y="118.7"/><use href="#np" x="-8.40" y="124.8"/><use href="#np" x="-7.92" y="120.5"/><use href="#np" x="-7.85" y="118.0"/><use href="#np" x="-8.20" y="119.0"/><use href="#np" x="-7.97" y="123.8"/><use href="#np" x="-8.58" y="117.0"/>
<use href="#np" x="-8.70" y="116.8"/><use href="#np" x="-8.62" y="125.5"/><use href="#np" x="-8.40" y="117.5"/><use href="#np" x="-8.18" y="115.6"/><use href="#np" x="-8.33" y="115.0"/><use href="#np" x="-6.17" y="119.7"/>
<use href="#np" x="-7.70" y="102.6"/><use href="#np" x="-7.56" y="106.5"/><use href="#np" x="-7.85" y="106.5"/><use href="#np" x="-7.925" y="108.6"/><use href="#np" x="-7.595" y="110.7"/><use href="#np" x="-7.74" y="113"/><use href="#np" x="-7.52" y="113"/><use href="#np" x="-7.19" y="113"/><use href="#np" x="-7.05" y="113"/><use href="#np" x="-7.485" y="112.2"/>
<use href="#np" x="-7.81" y="123.7"/><use href="#np" x="-7.465" y="121.3"/><use href="#np" x="-7.85" y="119.2"/><use href="#np" x="-8.21" y="117.7"/><use href="#np" x="-8.95" y="117.1"/><use href="#np" x="-8.74" y="117.9"/><use href="#np" x="-9.0" y="127.5"/><use href="#np" x="-8.40" y="114.7"/>
</g>
<use href="#mrR" transform="translate(-.05 .5)"/>
<g class="L">
<text transform="translate(-8.727 106.0) scale(.006641 .27392)" y="4">136</text><text transform="translate(-8.71 106.0) scale(.006641 .27392)" y="4">138</text>
<text transform="translate(-8.395 105.75) scale(.006641 .27392)" y="4">139</text><text transform="translate(-8.38 105.75) scale(.006641 .27392)" y="4">133</text>
<text transform="translate(-9.205 111.8) scale(.006641 .27392)" y="4">113</text>
<text transform="translate(-8.614 113.9) scale(.006641 .27392)" y="4">116</text><text transform="translate(-8.60 113.9) scale(.006641 .27392)" y="4">114</text>
<text transform="translate(-8.835 114.6) scale(.006641 .27392)" y="4">97</text><text transform="translate(-8.82 114.6) scale(.006641 .27392)" y="4">96</text>
<text transform="translate(-9.154 118.6) scale(.006641 .27392)" y="4">89</text><text transform="translate(-9.14 118.6) scale(.006641 .27392)" y="4">79</text>
<text transform="translate(-9.026 120.8) scale(.006641 .27392)" y="4">64</text><text transform="translate(-9.01 120.8) scale(.006641 .27392)" y="4">63</text>
<text transform="translate(-8.869 120.0) scale(.006641 .27392)" y="4">41</text>
<text transform="translate(-9.134 123.65) scale(.006641 .27392)" y="4">9</text><text transform="translate(-9.12 123.65) scale(.006641 .27392)" y="4">8</text>
<text transform="translate(-9.477 124.7) scale(.006641 .27392)" y="4">2</text><text transform="translate(-9.46 124.7) scale(.006641 .27392)" y="4">5</text>
<text transform="translate(-9.35 124.8) scale(.006641 .27392)" y="4">3</text><text transform="translate(-9.335 124.8) scale(.006641 .27392)" y="4">7</text>
<text transform="translate(-8.902 130.05) scale(.006641 .27392)" y="4">0</text><text transform="translate(-8.89 130.05) scale(.006641 .27392)" y="4">1</text>
<text transform="translate(-8.216 114.8) scale(.006641 .27392)" y="4">107</text><text transform="translate(-8.20 114.8) scale(.006641 .27392)" y="4">108</text>
<text transform="translate(-8.083 115.4) scale(.006641 .27392)" y="4">109</text><text transform="translate(-8.07 115.4) scale(.006641 .27392)" y="4">102</text>
<text transform="translate(-8.43 107.7) scale(.006641 .27392)" y="4">127</text><text transform="translate(-8.415 107.7) scale(.006641 .27392)" y="4">129</text>
<text transform="translate(-8.404 110.6) scale(.006641 .27392)" y="4">110</text><text transform="translate(-8.39 110.6) scale(.006641 .27392)" y="4">119</text>
<text transform="translate(-7.52 103.2) scale(.006641 .27392)" y="4">140</text><text transform="translate(-7.505 103.2) scale(.006641 .27392)" y="4">146</text>
<text transform="translate(-7.48 108.2) scale(.006641 .27392)" y="4">125</text><text transform="translate(-7.465 108.2) scale(.006641 .27392)" y="4">123</text>
<text transform="translate(-7.30 107.6) scale(.006641 .27392)" y="4">122</text>
<text transform="translate(-7.68 111.8) scale(.006641 .27392)" y="4">105</text>
<text transform="translate(-7.30 111.6) scale(.006641 .27392)" y="4">103</text>
<text transform="translate(-7.05 113.3) scale(.006641 .27392)" y="4">99</text><text transform="translate(-7.035 113.3) scale(.006641 .27392)" y="4">89</text>
<text transform="translate(-6.06 117.5) scale(.006641 .27392)" y="4">75</text><text transform="translate(-6.045 117.5) scale(.006641 .27392)" y="4">72</text>
<text transform="translate(-7.62 122.8) scale(.006641 .27392)" y="4">17</text><text transform="translate(-7.605 122.8) scale(.006641 .27392)" y="4">16</text>
<text transform="translate(-7.30 120.2) scale(.006641 .27392)" y="4">81</text><text transform="translate(-7.285 120.2) scale(.006641 .27392)" y="4">91</text>
<text transform="translate(-7.95 109.5) scale(.006641 .27392)" y="4">118</text><text transform="translate(-7.935 109.5) scale(.006641 .27392)" y="4">115</text>
<text transform="translate(-7.80 111.2) scale(.006641 .27392)" y="4">137</text>
</g>
<line x1="-11" x2="-5" y1="112.9" y2="112.9" stroke="#8b2be2" stroke-width="1.6" vector-effect="non-scaling-stroke"/>
<line x1="-8.5" x2="-8.5" y1="95" y2="140" stroke="#8b2be2" stroke-width="1.4" vector-effect="non-scaling-stroke"/>
</svg>
<rect x="926" y="176.7" width="782" height="120" fill="none" stroke="#666" stroke-width="2"/>
<text class="ti" x="937" y="190.7">HNCA</text>

<!-- ================= BR HNCACO ================= -->
<rect x="859" y="342" width="853" height="166" fill="none" stroke="#6d6df2" stroke-width="2"/>
<g class="tk">
<line x1="930" y1="467.9" x2="1700" y2="467.9" stroke-width="4.5" stroke-dasharray="1 15.695"/>
<line x1="980.1" y1="470.2" x2="1650" y2="470.2" stroke-width="9" stroke-dasharray="1 82.475"/>
<line x1="923.8" y1="358.3" x2="923.8" y2="458" stroke-width="4.5" stroke-dasharray="1 11.25"/>
<line x1="921.5" y1="358.3" x2="921.5" y2="421" stroke-width="9" stroke-dasharray="1 60.3"/>
</g>
<g class="xl"><text x="980.6" y="489.5">10.0</text><text x="1064.1" y="489.5">9.5</text><text x="1147.6" y="489.5">9.0</text><text x="1231" y="489.5">8.5</text><text x="1314.5" y="489.5">8.0</text><text x="1398" y="489.5">7.5</text><text x="1481.5" y="489.5">7.0</text><text x="1564.9" y="489.5">6.5</text><text x="1648.4" y="489.5">6.0</text>
<text x="1317" y="505"><tspan font-size="8" dy="-5">1</tspan><tspan dy="5">H (ppm)</tspan></text></g>
<g class="yl"><text x="914.5" y="363">100</text><text x="914.5" y="424.3">120</text></g>
<text class="xl" transform="translate(872 405.7) rotate(-90)"><tspan font-size="8" dy="-5">15</tspan><tspan dy="5">N (ppm)</tspan></text>
<svg x="926" y="345.7" width="782" height="120" viewBox="-10.327 95.725 4.684 39.175" preserveAspectRatio="none">
<defs><g id="cp" transform="scale(.00599 .32646)"><rect x="-8" y="-3" width="16" height="6" fill="#111" stroke="#333"/></g></defs>
<g id="brR">
<use href="#cp" x="-8.13" y="101.8"/><use href="#cp" x="-7.04" y="102.9"/><use href="#cp" x="-7.65" y="105.5"/><use href="#cp" x="-7.90" y="108.7"/><use href="#cp" x="-7.82" y="108.7"/><use href="#cp" x="-8.84" y="108.1"/><use href="#cp" x="-8.52" y="108.1"/><use href="#cp" x="-8.52" y="110.7"/><use href="#cp" x="-9.33" y="113.9"/><use href="#cp" x="-8.31" y="114.2"/>
<use href="#cp" x="-7.68" y="114.2"/><use href="#cp" x="-7.43" y="114.9"/><use href="#cp" x="-7.27" y="115.2"/><use href="#cp" x="-7.25" y="118.5"/><use href="#cp" x="-8.77" y="114.0"/><use href="#cp" x="-8.77" y="115.6"/><use href="#cp" x="-9.25" y="118.5"/><use href="#cp" x="-9.55" y="127.2"/><use href="#cp" x="-9.43" y="127.2"/><use href="#cp" x="-8.97" y="132.4"/>
<use href="#cp" x="-7.63" y="124.6"/><use href="#cp" x="-9.31" y="120.4"/><use href="#cp" x="-9.20" y="121.0"/><use href="#cp" x="-9.10" y="121.7"/><use href="#cp" x="-9.29" y="125.9"/><use href="#cp" x="-8.95" y="122.0"/><use href="#cp" x="-8.85" y="124.3"/><use href="#cp" x="-8.74" y="120.4"/><use href="#cp" x="-8.74" y="124.6"/><use href="#cp" x="-8.93" y="127.2"/>
<use href="#cp" x="-7.50" y="117.5"/><use href="#cp" x="-7.87" y="119.5"/><use href="#cp" x="-7.87" y="116.2"/><use href="#cp" x="-8.55" y="112.5"/><use href="#cp" x="-8.12" y="115.8"/><use href="#cp" x="-8.15" y="117.5"/><use href="#cp" x="-8.05" y="119.0"/><use href="#cp" x="-8.17" y="121.0"/><use href="#cp" x="-8.10" y="122.5"/><use href="#cp" x="-8.02" y="123.5"/>
<use href="#cp" x="-7.95" y="121.5"/><use href="#cp" x="-8.30" y="122.0"/><use href="#cp" x="-8.35" y="123.5"/><use href="#cp" x="-8.25" y="124.0"/><use href="#cp" x="-8.65" y="118.5"/><use href="#cp" x="-8.60" y="120.0"/><use href="#cp" x="-8.55" y="121.5"/><use href="#cp" x="-8.62" y="122.5"/><use href="#cp" x="-8.52" y="123.5"/><use href="#cp" x="-8.68" y="121.0"/>
<use href="#cp" x="-8.58" y="124.5"/><use href="#cp" x="-8.45" y="122.8"/><use href="#cp" x="-8.42" y="120.5"/><use href="#cp" x="-8.48" y="118.7"/><use href="#cp" x="-8.40" y="124.8"/><use href="#cp" x="-7.92" y="120.5"/><use href="#cp" x="-7.85" y="118.0"/><use href="#cp" x="-8.20" y="119.0"/><use href="#cp" x="-7.97" y="123.8"/><use href="#cp" x="-8.58" y="117.0"/>
<use href="#cp" x="-8.70" y="116.8"/><use href="#cp" x="-8.62" y="125.5"/><use href="#cp" x="-8.40" y="117.5"/><use href="#cp" x="-8.18" y="115.6"/><use href="#cp" x="-8.33" y="115.0"/><use href="#cp" x="-6.17" y="119.7"/>
<use href="#cp" x="-8.65" y="109.5"/><use href="#cp" x="-8.55" y="108.5"/><use href="#cp" x="-8.60" y="111.0"/><use href="#cp" x="-7.85" y="109.5"/><use href="#cp" x="-7.33" y="120.5"/><use href="#cp" x="-7.40" y="119.0"/><use href="#cp" x="-7.30" y="121.0"/><use href="#cp" x="-7.80" y="116.5"/><use href="#cp" x="-7.70" y="117.5"/>
</g>
<use href="#brR" transform="translate(.03 .7)"/>
<g class="L">
<text transform="translate(-8.05 99.1) scale(.00599 .32646)" y="4">179</text><text transform="translate(-8.035 99.1) scale(.00599 .32646)" y="4">180</text>
<text transform="translate(-6.99 100.4) scale(.00599 .32646)" y="4">176</text><text transform="translate(-6.97 100.4) scale(.00599 .32646)" y="4">178</text>
<text transform="translate(-7.57 102.7) scale(.00599 .32646)" y="4">173</text><text transform="translate(-7.555 102.7) scale(.00599 .32646)" y="4">174</text>
<text transform="translate(-7.91 105.9) scale(.00599 .32646)" y="4">176</text><text transform="translate(-7.87 105.9) scale(.00599 .32646)" y="4">166</text><text transform="translate(-7.835 105.9) scale(.00599 .32646)" y="4">168</text><text transform="translate(-7.775 105.9) scale(.00599 .32646)" y="4">180</text><text transform="translate(-7.727 105.9) scale(.00599 .32646)" y="4">181</text>
<text transform="translate(-8.416 105.6) scale(.00599 .32646)" y="4">165</text><text transform="translate(-8.40 105.6) scale(.00599 .32646)" y="4">163</text>
<text transform="translate(-8.40 107.6) scale(.00599 .32646)" y="4">159</text><text transform="translate(-8.39 108.9) scale(.00599 .32646)" y="4">158</text>
<text transform="translate(-8.755 105.5) scale(.00599 .32646)" y="4">187</text><text transform="translate(-8.74 105.5) scale(.00599 .32646)" y="4">188</text>
<text transform="translate(-8.626 110.8) scale(.00599 .32646)" y="4">144</text><text transform="translate(-8.61 110.8) scale(.00599 .32646)" y="4">143</text>
<text transform="translate(-9.22 110.9) scale(.00599 .32646)" y="4">143</text><text transform="translate(-9.205 110.9) scale(.00599 .32646)" y="4">142</text>
<text transform="translate(-9.12 115.9) scale(.00599 .32646)" y="4">103</text><text transform="translate(-9.10 115.9) scale(.00599 .32646)" y="4">100</text>
<text transform="translate(-8.998 117.7) scale(.00599 .32646)" y="4">98</text><text transform="translate(-8.98 117.7) scale(.00599 .32646)" y="4">95</text>
<text transform="translate(-8.219 111.5) scale(.00599 .32646)" y="4">134</text><text transform="translate(-8.205 111.5) scale(.00599 .32646)" y="4">138</text>
<text transform="translate(-8.057 112.5) scale(.00599 .32646)" y="4">129</text><text transform="translate(-8.04 112.5) scale(.00599 .32646)" y="4">122</text>
<text transform="translate(-7.757 111.8) scale(.00599 .32646)" y="4">131</text><text transform="translate(-7.74 111.8) scale(.00599 .32646)" y="4">130</text>
<text transform="translate(-7.608 112.2) scale(.00599 .32646)" y="4">149</text><text transform="translate(-7.59 112.2) scale(.00599 .32646)" y="4">148</text>
<text transform="translate(-7.338 112.2) scale(.00599 .32646)" y="4">145</text><text transform="translate(-7.32 112.2) scale(.00599 .32646)" y="4">146</text>
<text transform="translate(-7.177 112.2) scale(.00599 .32646)" y="4">123</text><text transform="translate(-7.16 112.2) scale(.00599 .32646)" y="4">124</text>
<text transform="translate(-7.10 115.4) scale(.00599 .32646)" y="4">107</text>
<text transform="translate(-7.18 118.3) scale(.00599 .32646)" y="4">155</text><text transform="translate(-7.165 118.3) scale(.00599 .32646)" y="4">135</text>
<text transform="translate(-7.77 116.7) scale(.00599 .32646)" y="4">92</text>
<text transform="translate(-7.338 115.7) scale(.00599 .32646)" y="4">106</text><text transform="translate(-7.32 115.7) scale(.00599 .32646)" y="4">108</text>
<text transform="translate(-7.57 123.1) scale(.00599 .32646)" y="4">16</text><text transform="translate(-7.555 123.1) scale(.00599 .32646)" y="4">15</text>
<text transform="translate(-6.10 116.8) scale(.00599 .32646)" y="4">90</text><text transform="translate(-6.085 116.8) scale(.00599 .32646)" y="4">98</text>
<text transform="translate(-9.556 124.8) scale(.00599 .32646)" y="4">6</text><text transform="translate(-9.54 124.8) scale(.00599 .32646)" y="4">5</text>
<text transform="translate(-9.372 124.8) scale(.00599 .32646)" y="4">7</text><text transform="translate(-9.355 124.8) scale(.00599 .32646)" y="4">4</text>
<text transform="translate(-8.93 129.7) scale(.00599 .32646)" y="4">1</text><text transform="translate(-8.915 129.7) scale(.00599 .32646)" y="4">0</text>
</g>
<line x1="-11" x2="-5" y1="112.9" y2="112.9" stroke="#9b5ce6" stroke-width="1.6" vector-effect="non-scaling-stroke"/>
<line x1="-8.5" x2="-8.5" y1="90" y2="140" stroke="#8b2be2" stroke-width="1.4" vector-effect="non-scaling-stroke"/>
</svg>
<rect x="1002" y="381.5" width="2" height="1.5" fill="#333"/>
<rect x="965" y="421" width="4" height="1.5" fill="#111"/>
<rect x="926" y="345.7" width="782" height="120" fill="none" stroke="#666" stroke-width="2"/>
<text class="ti" x="937" y="359.7">HNCACO</text>
</svg>

<!-- ================= Toolbar ================= -->
<div style="position:absolute;left:0;top:509px;width:1718px;height:35px;background:#ececec"></div>
<div style="position:absolute;left:0;top:541px;width:1718px;height:1px;background:#bdbdbd"></div>
<div class="b" style="left:9px;width:52px;justify-content:flex-start;padding-left:5px"><svg width="15" height="12"><rect x="0.5" y="0.5" width="14" height="11" fill="none" stroke="#222"/><path d="M0 4.2H15M0 7.8H15M5 0V12M10 0V12" stroke="#222"/></svg><span>Table</span></div>
<div class="t" style="left:266px;top:520px;width:36px;text-align:right">Cursor:</div>
<div class="seg">
<div style="width:58px;border-left:none;background:linear-gradient(#d2d2d2,#c4c4c4)">Selector<svg width="9" height="14"><path d="M1 1L1 12.5L3.8 9.6L6.2 13.6L7.8 12.8L5.5 8.9L9 8.6Z" fill="#000"/></svg></div>
<div style="width:67px">Crosshair<svg width="12" height="12"><path d="M4.5 0h3v4.5h4.5v3h-4.5v4.5h-3v-4.5h-4.5v-3h4.5z" fill="#000"/></svg></div>
<div style="width:51px">Peak<svg width="7" height="17"><path d="M3.5 0L7 4H4.3V13H7L3.5 17L0 13H2.7V4H0Z" fill="#000"/></svg></div>
<div style="width:57px;color:#aaa">Region<svg width="14" height="7"><path d="M0 3.5L4 0V2.7H10V0L14 3.5L10 7V4.3H4V7Z" fill="#aaa"/></svg></div>
</div>
<div class="b" style="left:549px;width:38px;font-size:12px;gap:7px">X<svg width="7" height="5"><path d="M0 0H7L3.5 4.5Z" fill="#666"/></svg></div>
<div class="i" style="left:592px;width:73px">10.327<div class="g" style="left:63px;top:3px;width:8px;height:13px"></div><div style="position:absolute;left:61px;top:3px;width:1.5px;height:13px;background:#000"></div></div>
<div class="i" style="left:672px;width:73px;color:#e01818">5.643<div class="g" style="left:59px;top:3px;width:8px;height:13px"></div><div style="position:absolute;left:68px;top:3px;width:1.5px;height:13px;background:#e01818"></div></div>
<div class="b" style="left:750px;width:39px;font-size:12px;gap:7px">Y<svg width="7" height="5"><path d="M0 0H7L3.5 4.5Z" fill="#666"/></svg></div>
<div class="i" style="left:794px;width:74px">134.900<div class="g" style="left:61px;top:3px;width:10px;height:9px"></div><div style="position:absolute;left:61px;top:12.5px;width:10px;height:2px;background:#000"></div></div>
<div class="i" style="left:874px;width:74px;color:#e01818">95.725<div class="g" style="left:60px;top:6px;width:11px;height:9px"></div><div style="position:absolute;left:60px;top:3.5px;width:11px;height:1.5px;background:#e01818"></div></div>
<div class="b" style="left:1152px;width:38px;font-size:12px;gap:7px">Z<svg width="7" height="5"><path d="M0 0H7L3.5 4.5Z" fill="#666"/></svg></div>
<div class="i" style="left:1195px;width:78px">128<div style="position:absolute;right:0;top:0;width:21px;height:19px;border-left:1px solid #c6c6c6;background:linear-gradient(#fafafa,#e6e6e6)"><svg width="21" height="19" style="position:absolute;left:0;top:0"><path d="M7 7H14L10.5 3Z" fill="#555"/><path d="M0 9.5H21" stroke="#c6c6c6"/><path d="M7 12H14L10.5 16Z" fill="#555"/></svg></div></div>
<div class="i" style="left:1280px;width:78px">1<div style="position:absolute;right:0;top:0;width:21px;height:19px;border-left:1px solid #c6c6c6;background:linear-gradient(#fafafa,#e6e6e6)"><svg width="21" height="19" style="position:absolute;left:0;top:0"><path d="M7 7H14L10.5 3Z" fill="#555"/><path d="M0 9.5H21" stroke="#c6c6c6"/><path d="M7 12H14L10.5 16Z" fill="#555"/></svg></div></div>
<div class="cb" style="left:1363px"></div>
<div class="t" style="left:1383px;top:520px">V</div>
<div class="cb" style="left:1595px"></div>
<div class="t" style="left:1615px;top:520px">Slices</div>
<div class="b" style="left:1651px;width:52px;font-size:12px">Phasing</div>
</body></html>
